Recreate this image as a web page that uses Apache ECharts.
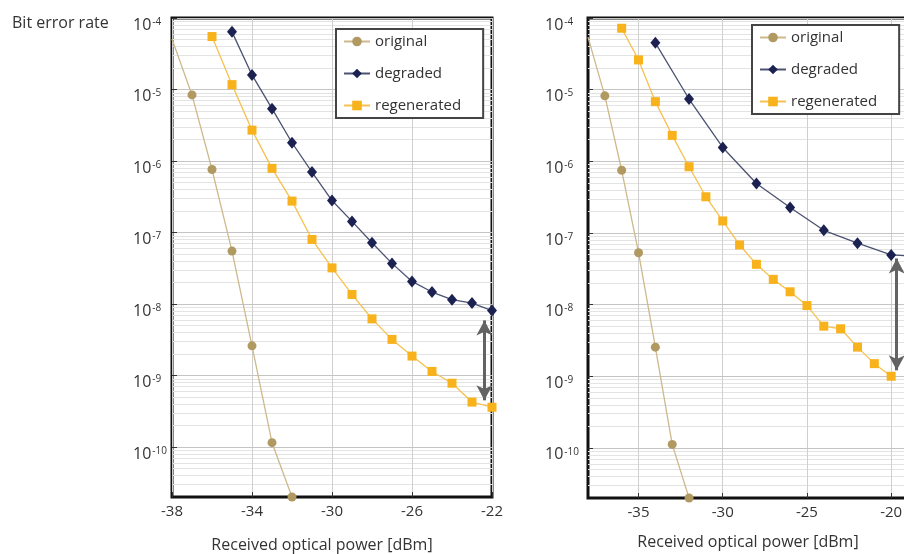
<!DOCTYPE html>
<html lang="en">
<head>
<meta charset="UTF-8">
<title>Bit error rate</title>
<style>
  body { margin: 0; background: #fff; }
  #main { width: 904px; height: 554px; }
</style>
</head>
<body>
<div id="main"></div>
<script src="https://cdn.jsdelivr.net/npm/echarts@6/dist/echarts.min.js"></script>
<script>
  // received optical power [dBm] and bit error rate, left panel
  const leftOrigX = [-38, -37, -36, -35, -34, -33, -32];
  const leftOrigBer = [5.1e-5, 8.4e-6, 7.6e-7, 5.5e-8, 2.6e-9, 1.15e-10, 2.0e-11];
  const leftDegX = [-35, -34, -33, -32, -31, -30, -29, -28, -27, -26, -25, -24, -23, -22];
  const leftDegBer = [6.4e-5, 1.6e-5, 5.4e-6, 1.8e-6, 7.0e-7, 2.8e-7, 1.43e-7, 7.2e-8, 3.7e-8, 2.07e-8, 1.47e-8, 1.15e-8, 1.03e-8, 8.1e-9];
  const leftRegX = [-36, -35, -34, -33, -32, -31, -30, -29, -28, -27, -26, -25, -24, -23, -22];
  const leftRegBer = [5.5e-5, 1.17e-5, 2.7e-6, 7.9e-7, 2.75e-7, 8.0e-8, 3.2e-8, 1.36e-8, 6.2e-9, 3.2e-9, 1.87e-9, 1.14e-9, 7.8e-10, 4.25e-10, 3.6e-10];

  // right panel
  const rightOrigX = [-38, -37, -36, -35, -34, -33, -32];
  const rightOrigBer = [5.4e-5, 8.2e-6, 7.5e-7, 5.3e-8, 2.55e-9, 1.12e-10, 2.0e-11];
  const rightDegX = [-34, -32, -30, -28, -26, -24, -22, -20, -19];
  const rightDegBer = [4.5e-5, 7.4e-6, 1.56e-6, 4.9e-7, 2.26e-7, 1.09e-7, 7.2e-8, 4.93e-8, 4.8e-8];
  const rightRegX = [-36, -35, -34, -33, -32, -31, -30, -29, -28, -27, -26, -25, -24, -23, -22, -21, -20];
  const rightRegBer = [7.2e-5, 2.6e-5, 6.8e-6, 2.3e-6, 8.4e-7, 3.2e-7, 1.47e-7, 6.8e-8, 3.65e-8, 2.25e-8, 1.51e-8, 9.7e-9, 5.0e-9, 4.6e-9, 2.55e-9, 1.5e-9, 1.0e-9];

  // double arrows: [power, upper BER, lower BER]
  const leftArrow = [-22.38, 5.9e-9, 4.5e-10];
  const rightArrow = [-19.67, 4.4e-8, 1.21e-9];

  // axis ticks
  const leftTicks = [-38, -34, -30, -26, -22];
  const rightTicks = [-35, -30, -25, -20];
  const berTicks = [1e-10, 1e-9, 1e-8, 1e-7, 1e-6, 1e-5, 1e-4];
  const berMin = 2e-11, berMax = 1e-4;

  const font = 'Open Sans';
  const names = ['original', 'degraded', 'regenerated'];

  // minor log grid lines (2..9 x 10^n)
  let minorTicks = [];
  for (let n = -11; n <= -5; n++) {
    for (let k = 2; k <= 9; k++) {
      let v = k * Math.pow(10, n);
      if (v > berMin * 1.01 && v < berMax) minorTicks.push(v);
    }
  }

  function pairs(xs, ys) {
    return xs.map((x, i) => [x, ys[i]]);
  }

  function makeSeries(idx, origX, origBer, degX, degBer, regX, regBer, arrow, xMin, xMax) {
    // hide the markers that sit on or past the frame
    let inside = function (v) { return v[0] > xMin && v[0] <= xMax; };
    return [
      {
        type: 'line', name: 'original', xAxisIndex: idx, yAxisIndex: idx,
        data: pairs(origX, origBer),
        symbol: 'circle',
        symbolSize: function (v) { return inside(v) ? 9 : 0; },
        itemStyle: { color: '#b19a62' },
        lineStyle: { color: '#cdb98c', width: 1.3 },
        z: 3
      },
      {
        type: 'line', name: 'degraded', xAxisIndex: idx, yAxisIndex: idx,
        data: pairs(degX, degBer),
        symbol: 'diamond',
        symbolSize: function (v) { return inside(v) ? [10, 12] : 0; },
        itemStyle: { color: '#1b2150' },
        lineStyle: { color: '#4b5272', width: 1.3 },
        z: 4,
        markLine: {
          silent: true, animation: false,
          symbol: ['arrow', 'arrow'], symbolSize: [12, 15],
          label: { show: false },
          lineStyle: { color: '#636363', width: 3, type: 'solid' },
          data: [[{ coord: [arrow[0], arrow[1]] }, { coord: [arrow[0], arrow[2]] }]]
        }
      },
      {
        type: 'line', name: 'regenerated', xAxisIndex: idx, yAxisIndex: idx,
        data: pairs(regX, regBer),
        symbol: 'rect', symbolSize: 9,
        itemStyle: { color: '#f8b21b' },
        lineStyle: { color: '#f6c14f', width: 1.3 },
        z: 3
      }
    ];
  }

  function xAxisFor(idx, min, max, ticks, padRight, gap) {
    return {
      type: 'value', gridIndex: idx, min: min, max: max,
      name: 'Received optical power [dBm]',
      nameLocation: 'middle', nameGap: gap,
      nameTextStyle: { fontFamily: font, fontSize: 16, color: '#333', padding: [0, padRight, 0, 0] },
      axisLine: { show: false },
      axisTick: { inside: true, length: 5, lineStyle: { color: '#333' }, customValues: ticks },
      axisLabel: { fontFamily: font, fontSize: 15, color: '#333', margin: 7, customValues: ticks },
      splitLine: { show: true, lineStyle: { color: '#cfcfcf', width: 1 } }
    };
  }

  function yAxisFor(idx, margin) {
    return {
      type: 'log', gridIndex: idx, min: berMin, max: berMax, z: 1,
      axisLine: { show: false },
      axisTick: { inside: true, length: 5, lineStyle: { color: '#333' }, customValues: berTicks },
      axisLabel: {
        customValues: berTicks,
        align: 'left', margin: margin,
        padding: [14, 0, 0, 0],
        formatter: function (v) {
          return '{b|10}{s|' + Math.round(Math.log10(v)) + '}';
        },
        rich: {
          b: { fontFamily: font, fontSize: 16, color: '#333' },
          s: { fontFamily: font, fontSize: 10, color: '#333', verticalAlign: 'top', padding: [0, 0, 0, 1] }
        }
      },
      splitLine: { show: true, lineStyle: { color: '#c4c4c4', width: 1 } }
    };
  }

  // hidden axis that only draws the minor grid
  function yMinorFor(idx) {
    return {
      type: 'log', gridIndex: idx, min: berMin, max: berMax, z: 0,
      axisLine: { show: false },
      axisTick: { show: false, customValues: minorTicks },
      axisLabel: { show: false },
      splitLine: { show: true, lineStyle: { color: '#e3e3e3', width: 1 } }
    };
  }

  function legendFor(left, top) {
    return {
      orient: 'vertical', left: left, top: top,
      data: names,
      itemWidth: 26, itemHeight: 12, itemGap: 17,
      padding: [5, 22, 5, 7],
      borderColor: '#444', borderWidth: 2, backgroundColor: '#fff',
      textStyle: { fontFamily: font, fontSize: 15, color: '#333' }
    };
  }

  let chart = echarts.init(document.getElementById('main'));
  let option = {
    animation: false,
    backgroundColor: '#fff',
    title: {
      text: 'Bit error rate', left: 12, top: 15, padding: 0,
      textStyle: { fontFamily: font, fontSize: 16, fontWeight: 'normal', color: '#333' }
    },
    legend: [legendFor(336, 29), legendFor(752, 25)],
    grid: [
      { left: 172, right: 412, top: 18, bottom: 57, outerBoundsMode: 'none', show: true, backgroundColor: 'transparent', borderColor: '#111', borderWidth: 3 },
      { left: 588, right: -4, top: 18, bottom: 56, outerBoundsMode: 'none', show: true, backgroundColor: 'transparent', borderColor: '#111', borderWidth: 3 }
    ],
    xAxis: [
      xAxisFor(0, -38, -22, leftTicks, 20, 40),
      xAxisFor(1, -38, -19, rightTicks, 0, 36)
    ],
    yAxis: [yAxisFor(0, 39), yAxisFor(1, 43), yMinorFor(0), yMinorFor(1)],
    series: makeSeries(0, leftOrigX, leftOrigBer, leftDegX, leftDegBer, leftRegX, leftRegBer, leftArrow, -38, -22)
      .concat(makeSeries(1, rightOrigX, rightOrigBer, rightDegX, rightDegBer, rightRegX, rightRegBer, rightArrow, -38, -20))
  };
  chart.setOption(option);
</script>
</body>
</html>
